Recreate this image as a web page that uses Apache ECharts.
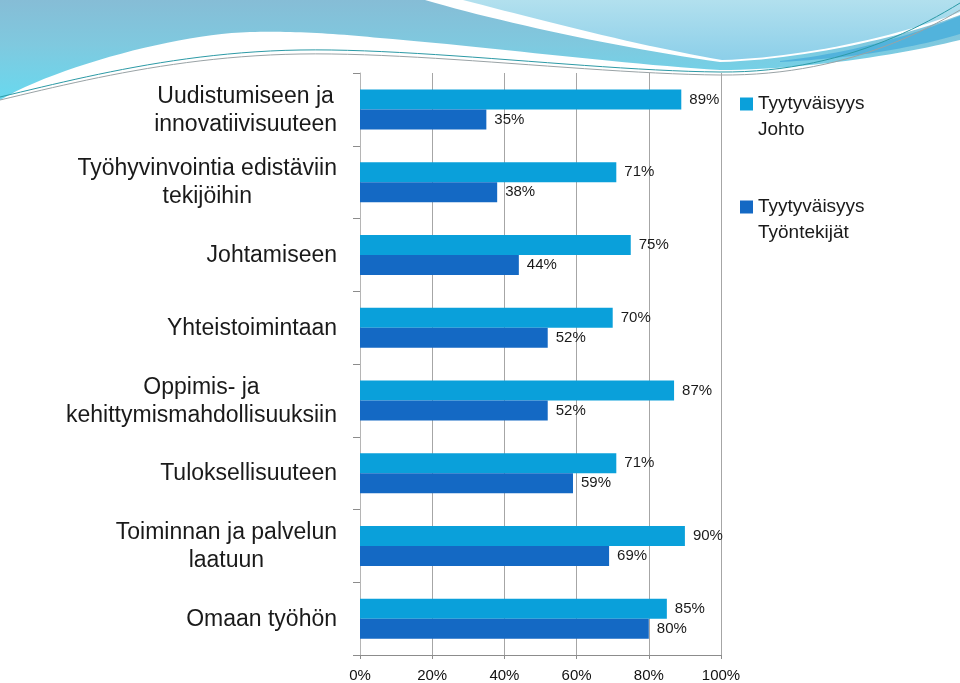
<!DOCTYPE html>
<html>
<head>
<meta charset="utf-8">
<script src="https://cdn.jsdelivr.net/npm/echarts@6/dist/echarts.min.js"></script>
<style>
html,body{margin:0;padding:0;background:#fff;}
#chart{width:960px;height:683px;}
</style>
</head>
<body>
<div id="chart"></div>
<script>
// ---- data ----
const categories = [
  'Uudistumiseen ja\ninnovatiivisuuteen',
  'Työhyvinvointia edistäviin\ntekijöihin',
  'Johtamiseen',
  'Yhteistoimintaan',
  'Oppimis- ja\nkehittymismahdollisuuksiin',
  'Tuloksellisuuteen',
  'Toiminnan ja palvelun\nlaatuun',
  'Omaan työhön'
];
const seriesNames = ['Tyytyväisyys Johto', 'Tyytyväisyys Työntekijät'];
const johtoValues = [89, 71, 75, 70, 87, 71, 90, 85];
const tyontekijatValues = [35, 38, 44, 52, 52, 59, 69, 80];
const xTicks = [0, 20, 40, 60, 80, 100];

// ---- decoration helper (background swoosh) ----
function pts(cmds) {
  const out = [];
  let cx = 0, cy = 0;
  cmds.forEach(c => {
    if (c[0] === 'M' || c[0] === 'L') { cx = c[1]; cy = c[2]; out.push([cx, cy]); }
    else if (c[0] === 'C') {
      const [, x1, y1, x2, y2, x, y] = c;
      for (let i = 1; i <= 24; i++) {
        const t = i / 24, u = 1 - t;
        out.push([
          u*u*u*cx + 3*u*u*t*x1 + 3*u*t*t*x2 + t*t*t*x,
          u*u*u*cy + 3*u*u*t*y1 + 3*u*t*t*y2 + t*t*t*y
        ]);
      }
      cx = x; cy = y;
    }
  });
  return out;
}
const LG = echarts.graphic.LinearGradient;
const decor = [
  { type: 'polygon', silent: true, z: -5,
    shape: { points: pts([['M',0,0],['L',425,0],['C',500,22,620,48,720,62],['C',800,60,900,38,960,15],['L',960,40],
      ['C',900,55,800,70,720,70],['C',620,64,480,46,380,38],['C',330,33,290,31,250,32],['C',180,34,60,65,0,100]]) },
    style: { fill: new LG(0,0,0,1,[{offset:0,color:'#86bdd6'},{offset:0.45,color:'#7fc9df'},{offset:1,color:'#68d9ef'}]) } },
  { type: 'polygon', silent: true, z: -5,
    shape: { points: pts([['M',463,0],['L',960,0],['L',960,12],['C',900,36,800,58,722,60],['C',640,46,540,20,463,0]]) },
    style: { fill: new LG(0,0,0,1,[{offset:0,color:'#b2e0ee'},{offset:1,color:'#8ccfe9'}]) } },
  { type: 'polygon', silent: true, z: -5,
    shape: { points: pts([['M',780,61],['C',860,52,920,32,960,16],['L',960,34],['C',920,46,860,58,780,62]]) },
    style: { fill: '#52b3dc' } },
  { type: 'polyline', silent: true, z: -5,
    shape: { points: pts([['M',0,97],['C',80,78,180,52,300,50],['C',420,48,600,71,720,72],['C',820,73,900,40,960,3]]) },
    style: { stroke: '#2c9aa6', lineWidth: 1, fill: null } },
  { type: 'polyline', silent: true, z: -5,
    shape: { points: pts([['M',0,100],['C',80,81,180,56,300,54],['C',420,52,600,74,720,75],['C',820,76,900,46,960,10]]) },
    style: { stroke: '#9aa3a6', lineWidth: 1, fill: null } }
];

const chart = echarts.init(document.getElementById('chart'), null, { renderer: 'canvas' });
const FONT = '"Liberation Sans", Arial, sans-serif';
const option = {
  backgroundColor: '#ffffff',
  animation: false,
  textStyle: { fontFamily: FONT },
  graphic: decor,
  grid: { left: 360, right: 239, top: 73, bottom: 28, containLabel: false },
  legend: {
    orient: 'vertical', left: 740, top: 65, padding: 0,
    itemWidth: 13, itemHeight: 13, itemGap: 25, icon: 'rect',
    data: seriesNames,
    formatter: n => '\u00a0\n' + n.replace(' ', '\n'),
    textStyle: { fontSize: 19, lineHeight: 26, color: '#1a1a1a', fontFamily: FONT }
  },
  xAxis: {
    type: 'value', min: xTicks[0], max: xTicks[xTicks.length - 1], interval: 20,
    axisLine: { show: true, lineStyle: { color: '#8c8c8c' } },
    axisTick: { show: true, length: 4, lineStyle: { color: '#8c8c8c' } },
    splitLine: { show: true, lineStyle: { color: '#a6a6a6', width: 1 } },
    axisLabel: { formatter: '{value}%', fontSize: 15, color: '#111', margin: 13, fontFamily: FONT }
  },
  yAxis: {
    type: 'category', inverse: true, data: categories,
    axisLine: { show: true, lineStyle: { color: '#b5b5b5' } },
    axisTick: { show: true, length: 7, lineStyle: { color: '#8c8c8c' } },
    axisLabel: {
      margin: 23, color: '#1a1a1a', fontSize: 23, lineHeight: 28, fontFamily: FONT,
      formatter: v => v.split('\n').map(s => '{c|' + s + '}').join('\n'),
      rich: { c: { fontSize: 23, lineHeight: 28, align: 'center', color: '#1a1a1a', fontFamily: FONT, padding: [2, 0, 0, 0] } }
    }
  },
  series: [
    {
      name: seriesNames[0], type: 'bar', data: johtoValues,
      barWidth: 20, barGap: '0%',
      itemStyle: { color: '#0aa0da' },
      label: { show: true, position: 'right', distance: 8, formatter: '{c}%', fontSize: 15, color: '#1a1a1a', fontFamily: FONT }
    },
    {
      name: seriesNames[1], type: 'bar', data: tyontekijatValues,
      barWidth: 20, barGap: '0%',
      itemStyle: { color: '#1469c4' },
      label: { show: true, position: 'right', distance: 8, formatter: '{c}%', fontSize: 15, color: '#1a1a1a', fontFamily: FONT }
    }
  ]
};
chart.setOption(option);
</script>
</body>
</html>
